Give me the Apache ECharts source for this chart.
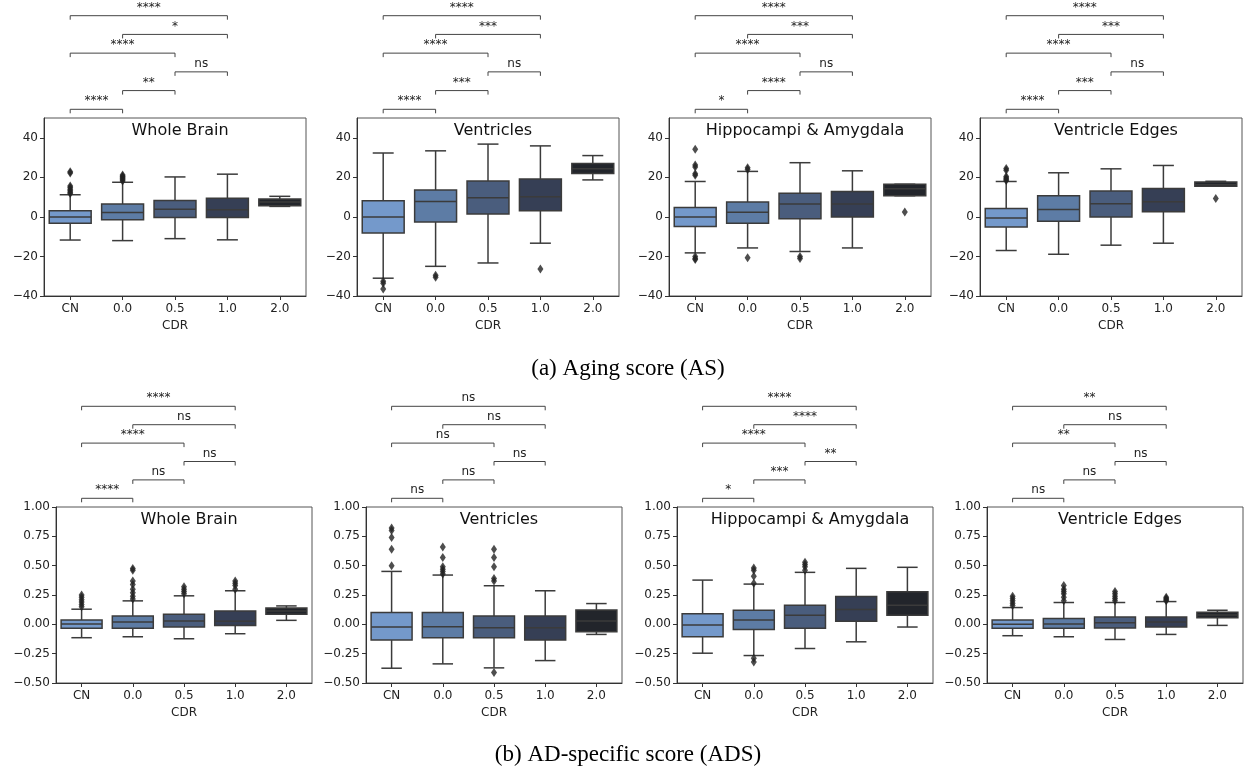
<!DOCTYPE html>
<html>
<head>
<meta charset="utf-8">
<script src="https://cdn.jsdelivr.net/npm/echarts@6/dist/echarts.min.js"></script>
<style>
  html, body { margin: 0; padding: 0; background: #fff; }
  #chart { width: 1247px; height: 771px; }
</style>
</head>
<body>
<div id="chart"></div>
<script>
const cdr = ['CN', '0.0', '0.5', '1.0', '2.0'];
const regions = ['Whole Brain', 'Ventricles', 'Hippocampi & Amygdala', 'Ventricle Edges'];
// comparison pairs, from lowest bracket to highest
const pairs = [[0, 1], [1, 2], [2, 3], [0, 2], [1, 3], [0, 3]];

// box stats per CDR group: [min whisker, Q1, median, Q3, max whisker]
const asWholeBrainBox = [[-11.7, -3.2, 0, 3.1, 11.2], [-12, -1.5, 2.2, 6.5, 17.5], [-11, -0.3, 3.9, 8.3, 20.2], [-11.6, -0.3, 3.6, 9.4, 21.6], [5.3, 5.6, 7.5, 9.0, 10.4]];
const asWholeBrainOut = [[22.8, 22.2, 15.6, 14.8, 14.0, 13.2, 12.4, 11.8], [21.2, 20.6, 20.0, 19.4, 18.8, 18.2], [], [], []];
const asWholeBrainSig = ['****', '**', 'ns', '****', '*', '****'];

const asVentriclesBox = [[-31, -8.2, 0, 8.2, 32.3], [-25, -2.6, 7.8, 13.6, 33.4], [-23.3, 1.4, 9.7, 18.2, 36.8], [-13.3, 3.1, 10.2, 19.2, 35.9], [18.7, 22, 24.3, 27, 31]];
const asVentriclesOut = [[-32.5, -33.5, -36.5], [-29.5, -30.5], [], [-26.4], []];
const asVentriclesSig = ['****', '***', 'ns', '****', '***', '****'];

const asHippoBox = [[-18.2, -4.8, 0, 4.8, 17.9], [-15.7, -3.2, 2.4, 7.5, 23], [-17.5, -0.9, 6.5, 11.9, 27.4], [-15.7, 0, 6.5, 12.8, 23.3], [10.7, 10.7, 14.2, 16.5, 16.5]];
const asHippoOut = [[34.2, 26.2, 25.2, 21.8, 21.0, -20.0, -21.0, -21.6], [24.8, 24.0, -20.6], [-20.0, -21.0], [], [2.5]];
const asHippoSig = ['*', '****', 'ns', '****', '***', '****'];

const asEdgesBox = [[-17, -5.1, -0.5, 4.3, 17.9], [-18.9, -2.2, 3.7, 10.7, 22.3], [-14.3, 0, 6.6, 13.1, 24.3], [-13.3, 2.6, 7.7, 14.3, 26], [15.5, 15.5, 16.3, 17.7, 18]];
const asEdgesOut = [[24.5, 23.6, 20.4, 19.6, 19.0, 18.4], [], [], [], [9.3]];
const asEdgesSig = ['****', '***', 'ns', '****', '***', '****'];

const adsWholeBrainBox = [[-0.114, -0.034, 0.003, 0.037, 0.129], [-0.106, -0.034, 0.02, 0.071, 0.2], [-0.123, -0.023, 0.029, 0.086, 0.243], [-0.08, -0.009, 0.026, 0.114, 0.286], [0.034, 0.086, 0.114, 0.14, 0.157]];
const adsWholeBrainOut = [[0.25, 0.23, 0.21, 0.19, 0.17, 0.15], [0.475, 0.46, 0.37, 0.34, 0.30, 0.27, 0.24, 0.215], [0.32, 0.30, 0.28, 0.26], [0.37, 0.35, 0.33, 0.30], []];
const adsWholeBrainSig = ['****', 'ns', 'ns', '****', 'ns', '****'];

const adsVentriclesBox = [[-0.374, -0.134, -0.023, 0.1, 0.451], [-0.337, -0.114, -0.02, 0.1, 0.42], [-0.371, -0.114, -0.029, 0.071, 0.329], [-0.309, -0.134, -0.029, 0.071, 0.286], [-0.086, -0.063, 0.029, 0.123, 0.177]];
const adsVentriclesOut = [[0.82, 0.80, 0.74, 0.64, 0.50], [0.66, 0.57, 0.49, 0.47, 0.45, 0.43], [0.64, 0.57, 0.49, 0.39, 0.37, -0.41], [], []];
const adsVentriclesSig = ['ns', 'ns', 'ns', 'ns', 'ns', 'ns'];

const adsHippoBox = [[-0.246, -0.106, -0.006, 0.091, 0.377], [-0.266, -0.043, 0.037, 0.12, 0.343], [-0.206, -0.034, 0.077, 0.163, 0.443], [-0.149, 0.026, 0.126, 0.237, 0.477], [-0.023, 0.077, 0.163, 0.277, 0.486]];
const adsHippoOut = [[], [0.48, 0.46, 0.41, 0.35, -0.29, -0.32], [0.53, 0.51, 0.49, 0.46], [], []];
const adsHippoSig = ['*', '***', '**', '****', '****', '****'];

const adsEdgesBox = [[-0.097, -0.034, 0, 0.037, 0.143], [-0.106, -0.034, 0.003, 0.049, 0.186], [-0.129, -0.031, 0.014, 0.063, 0.186], [-0.086, -0.023, 0.02, 0.063, 0.194], [-0.009, 0.057, 0.08, 0.103, 0.12]];
const adsEdgesOut = [[0.24, 0.22, 0.20, 0.18, 0.16], [0.33, 0.30, 0.28, 0.26, 0.23, 0.20], [0.28, 0.26, 0.24, 0.22, 0.20], [0.23, 0.22, 0.21, 0.20], []];
const adsEdgesSig = ['ns', 'ns', 'ns', '**', 'ns', '**'];

const captions = ['(a) Aging score (AS)', '(b) AD-specific score (ADS)'];

const panels = [
  { box: asWholeBrainBox, out: asWholeBrainOut, sig: asWholeBrainSig, row: 0, col: 0 },
  { box: asVentriclesBox, out: asVentriclesOut, sig: asVentriclesSig, row: 0, col: 1 },
  { box: asHippoBox, out: asHippoOut, sig: asHippoSig, row: 0, col: 2 },
  { box: asEdgesBox, out: asEdgesOut, sig: asEdgesSig, row: 0, col: 3 },
  { box: adsWholeBrainBox, out: adsWholeBrainOut, sig: adsWholeBrainSig, row: 1, col: 0 },
  { box: adsVentriclesBox, out: adsVentriclesOut, sig: adsVentriclesSig, row: 1, col: 1 },
  { box: adsHippoBox, out: adsHippoOut, sig: adsHippoSig, row: 1, col: 2 },
  { box: adsEdgesBox, out: adsEdgesOut, sig: adsEdgesSig, row: 1, col: 3 },
];

// layout of the two rows
const rows = [
  { lefts: [44, 357, 669, 980], width: 262, top: 118, height: 178, sigTop: 15.7, sigHeight: 93.6,
    min: -40, max: 50, interval: 20, digits: 0, captionTop: 352 },
  { lefts: [56, 366, 677, 987], width: 256, top: 507, height: 176, sigTop: 406.3, sigHeight: 92,
    min: -0.5, max: 1, interval: 0.25, digits: 2, captionTop: 738 },
];

const palette = ['#7499cb', '#5d7ca5', '#4a5d7d', '#363f55', '#22252b'];
const edge = '#3b3b3b';
const font = 'DejaVu Sans';

const grid = [], xAxis = [], yAxis = [], series = [], title = [];

function minus(s) { return s.replace('-', '\u2212'); }

panels.forEach((p, k) => {
  const r = rows[p.row];
  const left = r.lefts[p.col];
  const gi = grid.length;

  // plot area
  grid.push({ left, top: r.top, width: r.width, height: r.height, show: true,
    borderColor: '#555', borderWidth: 1, backgroundColor: 'transparent', outerBoundsMode: 'none' });
  xAxis.push({
    type: 'category', data: cdr, gridIndex: gi,
    axisLine: { show: true, onZero: false, lineStyle: { color: '#333' } },
    axisTick: { show: true, alignWithLabel: true, length: 4, lineStyle: { color: '#333' } },
    axisLabel: { fontFamily: font, fontSize: 12, color: '#222', margin: 7 },
    name: 'CDR', nameLocation: 'middle', nameGap: 24,
    nameTextStyle: { fontFamily: font, fontSize: 12, color: '#222' },
    splitLine: { show: false },
  });
  yAxis.push({
    type: 'value', gridIndex: gi, min: r.min, max: r.max, interval: r.interval,
    axisLine: { show: true, onZero: false, lineStyle: { color: '#333' } },
    axisTick: { show: true, length: 4, lineStyle: { color: '#333' } },
    axisLabel: { fontFamily: font, fontSize: 12, color: '#222', margin: 6, showMaxLabel: r.digits > 0,
      formatter: v => minus(v.toFixed(r.digits)) },
    splitLine: { show: false },
  });

  series.push({
    type: 'custom', xAxisIndex: gi, yAxisIndex: gi,
    data: p.box.map((b, i) => [i].concat(b)),
    encode: { x: 0, y: [1, 2, 3, 4, 5] },
    renderItem: (params, api) => {
      const i = api.value(0);
      const band = api.size([1, 0])[0];
      const x = api.coord([i, 0])[0];
      const y = j => api.coord([i, api.value(j)])[1];
      const lo = y(1), q1 = y(2), md = y(3), q3 = y(4), hi = y(5);
      const bw = band * 0.8, cw = band * 0.4;
      const st = { stroke: edge, lineWidth: 1.5, fill: null };
      return { type: 'group', children: [
        { type: 'line', shape: { x1: x, y1: q1, x2: x, y2: lo }, style: st },
        { type: 'line', shape: { x1: x, y1: q3, x2: x, y2: hi }, style: st },
        { type: 'line', shape: { x1: x - cw / 2, y1: lo, x2: x + cw / 2, y2: lo }, style: st },
        { type: 'line', shape: { x1: x - cw / 2, y1: hi, x2: x + cw / 2, y2: hi }, style: st },
        { type: 'rect', shape: { x: x - bw / 2, y: q3, width: bw, height: Math.max(q1 - q3, 1) },
          style: { fill: palette[i], stroke: edge, lineWidth: 1.5 } },
        { type: 'line', shape: { x1: x - bw / 2, y1: md, x2: x + bw / 2, y2: md }, style: st },
      ] };
    },
    z: 2,
  });

  const outPts = [];
  p.out.forEach((vals, i) => vals.forEach(v => outPts.push([i, v])));
  series.push({
    type: 'scatter', xAxisIndex: gi, yAxisIndex: gi, data: outPts,
    symbol: 'diamond', symbolSize: [6, 9], itemStyle: { color: '#222' }, z: 3,
  });

  title.push({
    text: regions[p.col], left: left + r.width / 2, top: r.top, textAlign: 'center',
    textStyle: { fontFamily: font, fontSize: 16, fontWeight: 'normal', color: '#111' },
  });

  // significance brackets above the plot
  const si = grid.length;
  grid.push({ left, top: r.sigTop, width: r.width, height: r.sigHeight, show: false, outerBoundsMode: 'none' });
  xAxis.push({ type: 'category', data: cdr, gridIndex: si, show: false });
  yAxis.push({ type: 'value', gridIndex: si, min: 1, max: 6, show: false, splitLine: { show: false } });
  series.push({
    type: 'custom', xAxisIndex: si, yAxisIndex: si,
    data: pairs.map((pr, j) => [pr[0], pr[1], j + 1]),
    encode: { x: [0, 1], y: 2 },
    renderItem: (params, api) => {
      const lvl = api.value(2);
      const a = api.coord([api.value(0), lvl]);
      const b = api.coord([api.value(1), lvl]);
      const yy = a[1];
      return { type: 'group', children: [
        { type: 'polyline', shape: { points: [[a[0], yy + 4], [a[0], yy], [b[0], yy], [b[0], yy + 4]] },
          style: { stroke: '#444', lineWidth: 1, fill: null } },
        { type: 'text', x: (a[0] + b[0]) / 2, y: yy - 2,
          style: { text: p.sig[params.dataIndex], fontFamily: font, fontSize: 12, fill: '#222',
            align: 'center', verticalAlign: 'bottom' } },
      ] };
    },
  });
});

rows.forEach((r, i) => {
  title.push({
    text: captions[i], left: 623, top: r.captionTop, textAlign: 'center',
    textStyle: { fontFamily: 'Liberation Serif', fontSize: 23, fontWeight: 'normal', color: '#000' },
  });
});

const chart = echarts.init(document.getElementById('chart'), null, { renderer: 'canvas' });
chart.setOption({
  animation: false,
  backgroundColor: '#fff',
  title, grid, xAxis, yAxis, series,
});
</script>
</body>
</html>
